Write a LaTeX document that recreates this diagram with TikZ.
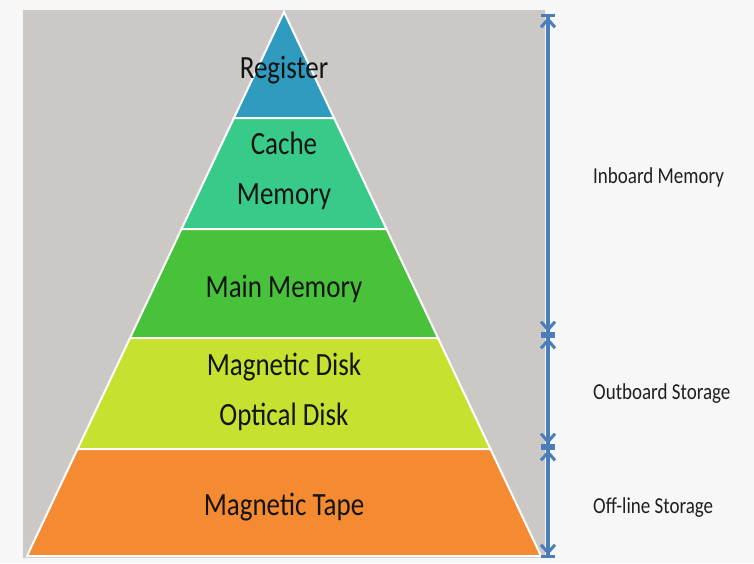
\documentclass[tikz,border=0pt]{standalone}
\usepackage{fontspec}
\setmainfont{Carlito}
\usetikzlibrary{positioning, arrows.meta, calc}

\definecolor{pagebg}{HTML}{F7F7F7}
\definecolor{panelgray}{HTML}{CBC8C6}
\definecolor{regblue}{HTML}{2F9BBF}
\definecolor{cachegreen}{HTML}{38CA88}
\definecolor{maingreen}{HTML}{48C23A}
\definecolor{disklime}{HTML}{C6E12F}
\definecolor{tapeorange}{HTML}{F48A32}
\definecolor{rangeblue}{HTML}{4A7EBB}

\begin{document}
\begin{tikzpicture}[
            x=1pt, y=-1pt,
            layer/.style={
                draw=white,
                line width=2pt,
                line join=miter
            },
            level/.style={
                font=\fontsize{27}{41}\selectfont,
                text=black!92,
                align=center,
                yscale=1.2,
                anchor=base,
                inner sep=0pt
            },
            tier/.style={
                font=\fontsize{19}{23}\selectfont,
                text=black!88,
                yscale=1.2,
                anchor=base west,
                inner sep=0pt
            },
            spanarrow/.style={
                draw=rangeblue, line width=3.4pt,
                {Bar[width=14pt,line width=3pt]Straight Barb[length=8pt,width=14pt,line width=3pt]}-{Straight Barb[length=8pt,width=14pt,line width=3pt]Bar[width=14pt,line width=3pt]}
            }
        ]

        % Background
        \fill[pagebg] (0,0) rectangle (754,563);
        \fill[panelgray] (23,10) rectangle (545,558);
        \useasboundingbox (0,0) rectangle (754,563);

        % Pyramid
        \coordinate (apex) at (284,12);
        \coordinate (baseL) at (27,556);
        \coordinate (baseR) at (541,556);
        \coordinate (l1) at ($(apex)!0.1949!(baseL)$);
        \coordinate (r1) at ($(apex)!0.1949!(baseR)$);
        \coordinate (l2) at ($(apex)!0.3989!(baseL)$);
        \coordinate (r2) at ($(apex)!0.3989!(baseR)$);
        \coordinate (l3) at ($(apex)!0.5993!(baseL)$);
        \coordinate (r3) at ($(apex)!0.5993!(baseR)$);
        \coordinate (l4) at ($(apex)!0.8033!(baseL)$);
        \coordinate (r4) at ($(apex)!0.8033!(baseR)$);

        \filldraw[layer, fill=regblue] (apex) -- (r1) -- (l1) -- cycle;
        \filldraw[layer, fill=cachegreen] (l1) -- (r1) -- (r2) -- (l2) -- cycle;
        \filldraw[layer, fill=maingreen] (l2) -- (r2) -- (r3) -- (l3) -- cycle;
        \filldraw[layer, fill=disklime] (l3) -- (r3) -- (r4) -- (l4) -- cycle;
        \filldraw[layer, fill=tapeorange] (l4) -- (r4) -- (baseR) -- (baseL) -- cycle;

        % Nodes
        \node[level] (register) at (284,78) {Register};
        \node[level] (cache) at (284,204) {Cache\\Memory};
        \node[level] (main) at (284,297) {Main Memory};
        \node[level] (disk) at (284,425) {Magnetic Disk\\Optical Disk};
        \node[level] (tape) at (284,515) {Magnetic Tape};

        \node[tier] (inboard) at (593,183) {Inboard Memory};
        \node[tier] (outboard) at (593,399) {Outboard Storage};
        \node[tier] (offline) at (593,513) {Off-line Storage};

        % Arrows
        \coordinate (top) at (548,14);
        \coordinate (cut1) at (548,335);
        \coordinate (cut2) at (548,447);
        \coordinate (bottom) at (548,558);
        \draw[spanarrow] (top) -- (cut1);
        \draw[spanarrow] (cut1) -- (cut2);
        \draw[spanarrow] (cut2) -- (bottom);

        \end{tikzpicture}
\end{document}
